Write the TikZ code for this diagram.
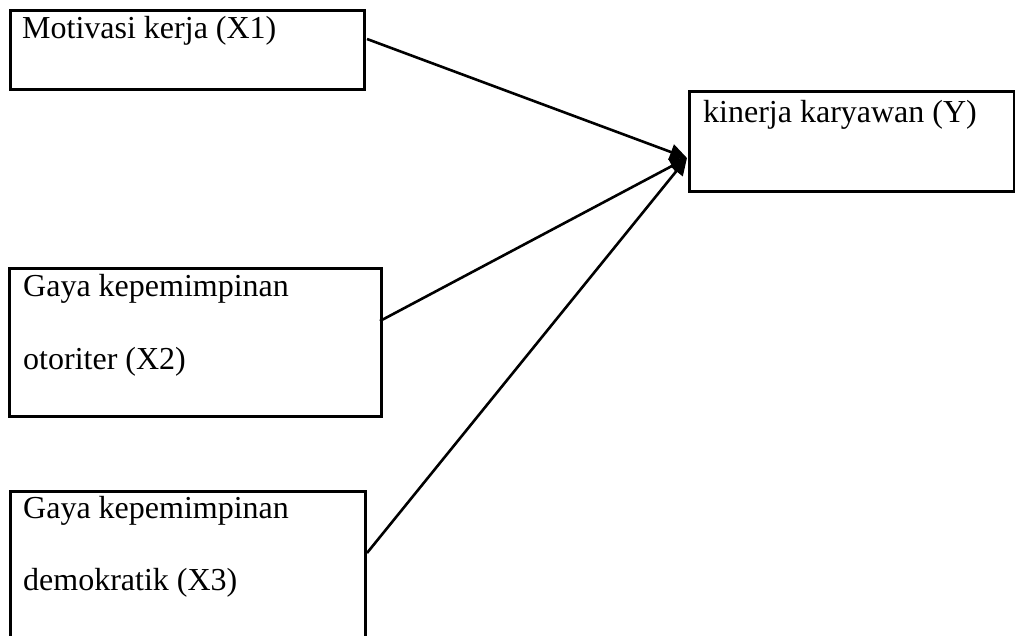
\documentclass[tikz,border=0pt]{standalone}
\usepackage{fontspec}
\setmainfont{Liberation Serif}
\usetikzlibrary{arrows.meta}
\tikzset{
  boxnode/.style={draw, line width=2.6pt, inner sep=0pt, anchor=north west},
  lbl/.style={anchor=base west, inner sep=0pt, font=\fontsize{32}{38}\selectfont},
  conn/.style={line width=2.6pt, -{Triangle[length=17pt,width=16pt]}}
}
\begin{document}
\begin{tikzpicture}[x=1pt,y=-1pt]
\useasboundingbox (0,0) rectangle (1015,636);
\clip (0,0) rectangle (1015,636);
% boxes
\node[boxnode, minimum width=354pt, minimum height=79pt] (bx1) at (9,9) {};
\node[boxnode, minimum width=325pt, minimum height=100pt] (by) at (688,90) {};
\node[boxnode, minimum width=372pt, minimum height=148pt] (bx2) at (8,267) {};
\node[boxnode, minimum width=355pt, minimum height=170pt] (bx3) at (9,490) {};
% labels
\node[lbl] (t1) at (22,39) {Motivasi kerja (X1)};
\node[lbl] (ty) at (703,123) {kinerja karyawan (Y)};
\node[lbl] (t2a) at (23,297) {Gaya kepemimpinan};
\node[lbl] (t2b) at (23,370) {otoriter (X2)};
\node[lbl] (t3a) at (23,518) {Gaya kepemimpinan};
\node[lbl] (t3b) at (23,590) {demokratik (X3)};
% connector ends
\coordinate (s1) at (367,39);
\coordinate (s2) at (380,321);
\coordinate (s3) at (367,553);
\coordinate (tip) at (687,158);
\draw[conn] (s1) -- (tip);
\draw[conn] (s2) -- (tip);
\draw[conn] (s3) -- (tip);
\end{tikzpicture}
\end{document}
